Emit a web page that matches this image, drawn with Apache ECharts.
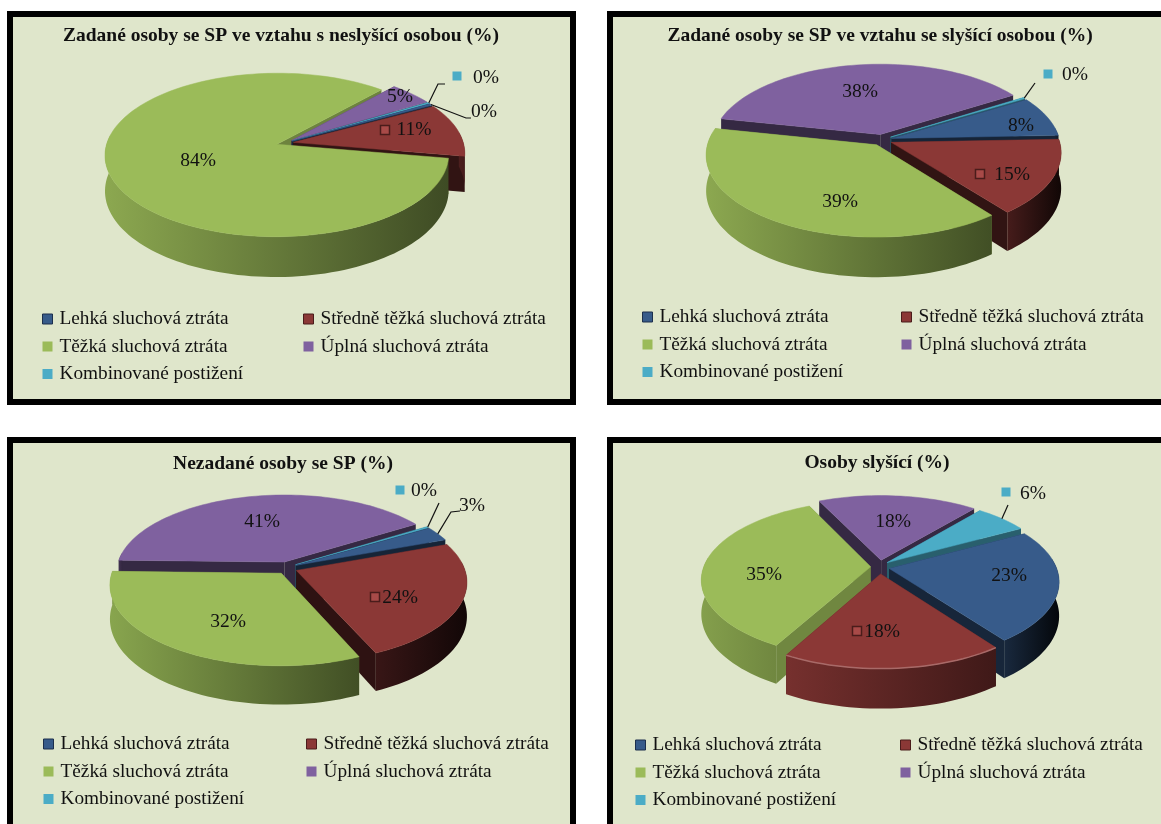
<!DOCTYPE html>
<html><head><meta charset="utf-8"><style>html,body{margin:0;padding:0;background:#fff}#c{width:1161px;height:824px;filter:blur(0.5px)}</style>
<script src="https://cdn.jsdelivr.net/npm/echarts@6/dist/echarts.min.js"></script></head><body><div id="c"></div>
<script>
const categories = ['Lehká sluchová ztráta','Středně těžká sluchová ztráta','Těžká sluchová ztráta','Úplná sluchová ztráta','Kombinované postižení'];
const titles = ['Zadané osoby se SP ve vztahu s neslyšící osobou (%)','Zadané osoby se SP ve vztahu se slyšící osobou (%)','Nezadané osoby se SP (%)','Osoby slyšící (%)'];
const valuesA = [0.4, 10.6, 83.6, 4.7, 0.3];
const valuesB = [8, 15, 38.9, 37.8, 0.3];
const valuesC = [3, 24, 32, 40.7, 0.3];
const valuesD = [23, 18, 35, 18, 6];
const panelValues = [valuesA, valuesB, valuesC, valuesD];
const colors = ['#375B8A','#8B3836','#9BBB59','#7F619F','#4BACC6'];

const layouts = [
 {frame:[10,14,563,388], c:[285,143], r:[170,80], p:.13, d:35, start:-30, e:[.05,.05],
  wall:[[.4,.3],[.55,.5],[.9,.4],[.5,.4],[.5,.4]], radial:[.4,.35,.7,.42,.5], rim:[],
  labels:[[484,112],[414,130],[198,161],[400,97],[486,78]], keys:{1:[385,130],4:[457,76]},
  leaders:{0:[[466,118],[471,118]],4:[[438,84],[445,84]]}, legend:[[42,309],[303,309]]},
 {frame:[610,14,570,388], c:[882,140], r:[168,80], p:.12, d:35, start:-31, e:[.06,.07],
  wall:[[.4,.3],[.5,.12],[.9,.42],[.5,.4],[.5,.4]], radial:[.4,.35,.7,.42,.5], rim:[],
  labels:[[1021,126],[1012,175],[840,202],[860,92],[1075,75]], keys:{1:[980,174],4:[1048,74]},
  leaders:{4:[[1035,83]]}, legend:[[642,307],[901,307]]},
 {frame:[10,440,563,400], c:[287,568], r:[168,78], p:.14, d:33, start:-31, e:[.06,.08],
  wall:[[.4,.3],[.4,.13],[.88,.42],[.5,.4],[.5,.4]], radial:[.4,.33,.7,.42,.5], rim:[],
  labels:[[472,506],[400,598],[228,622],[262,522],[424,491]], keys:{1:[375,597],4:[400,490]},
  leaders:{0:[[451,512],[460,511]],4:[[439,503]]}, legend:[[43,734],[306,734]]},
 {frame:[610,440,570,400], c:[880,567], r:[167,77], p:.16, d:33, start:-29, e:[.056,.09],
  wall:[[.45,.08],[.85,.45],[.85,.72],[.6,.5],[.6,.5]], radial:[.42,.5,.72,.42,.55], rim:[1],
  labels:[[1009,576],[882,632],[764,575],[893,522],[1033,494]], keys:{1:[857,631],4:[1006,492]},
  leaders:{4:[[1008,505]]}, legend:[[635,735],[900,735]]}
];
const titlePos = [[281,37],[880,37],[283,465],[877,464]];

const FONT = '"Liberation Serif", serif';
function shade(hex,f){const n=parseInt(hex.slice(1),16);const m=v=>Math.round(v*f);return `rgb(${m(n>>16&255)},${m(n>>8&255)},${m(n&255)})`;}
function lighten(hex,t){const n=parseInt(hex.slice(1),16);const m=v=>Math.round(v+(255-v)*t);return `rgb(${m(n>>16&255)},${m(n>>8&255)},${m(n&255)})`;}

function geometry(pi){
  const vals=panelValues[pi], total=vals.reduce((a,b)=>a+b,0), L=layouts[pi];
  let a=L.start; const out=vals.map(v=>{const s=a;a+=v/total*360;return {a:s,b:a,mid:(s+a)/2};});
  const order=out.map((g,i)=>[Math.sin(g.mid*Math.PI/180),i]).sort((x,y)=>x[0]-y[0]).map(x=>x[1]);
  out.forEach((g,i)=>g.rank=order.indexOf(i));
  return out;
}
function projector(L,g){
  const R=Math.PI/180, ox=L.e[0]*Math.cos(g.mid*R), oy=L.e[1]*Math.sin(g.mid*R);
  return (th,r,h)=>{const X=ox+r*Math.cos(th*R),Y=oy+r*Math.sin(th*R),s=1/(1-L.p*Y);
    return [L.c[0]+L.r[0]*X*s, L.c[1]+L.r[1]*Y*s+h*L.d*s];};
}
function renderSlice(pi,si){
  return function(){
    const L=layouts[pi], g=geometry(pi)[si], P=projector(L,g), col=colors[si], base=g.rank*10+10;
    const steps=Math.max(2,Math.ceil((g.b-g.a)/2)), arc=[];
    for(let i=0;i<=steps;i++)arc.push(g.a+(g.b-g.a)*i/steps);
    const ch=[];
    const rad=shade(col,L.radial[si]), big=(g.b-g.a)>180;
    [g.a,g.b].forEach((th,k)=>ch.push({type:'polygon',z2:big?1:base+k,shape:{points:[P(th,0,0),P(th,1,0),P(th,1,1),P(th,0,1)]},style:{fill:rad}}));
    const front=arc.filter(t=>Math.sin(t*Math.PI/180)>=-0.14);
    if(front.length>1){
      const pts=front.map(t=>P(t,1,0)).concat(front.slice().reverse().map(t=>P(t,1,1)));
      const w=L.wall[si];
      ch.push({type:'polygon',z2:base+3,shape:{points:pts},style:{fill:new echarts.graphic.LinearGradient(0,0,1,0,[{offset:0,color:shade(col,w[0])},{offset:1,color:shade(col,w[1])}])}});
    }
    ch.push({type:'polygon',z2:base+4,shape:{points:[P(g.a,0,0)].concat(arc.map(t=>P(t,1,0)))},style:{fill:col,stroke:col,lineWidth:.5}});
    if(L.rim.includes(si))ch.push({type:'polyline',z2:base+5,shape:{points:front.map(t=>P(t,1,0))},style:{fill:null,stroke:lighten(col,.25),lineWidth:1.5}});
    const at=L.labels[si], v=panelValues[pi][si];
    ch.push({type:'text',z2:1000,style:{x:at[0],y:at[1],text:Math.round(v)+'%',fill:'#111',font:'19.5px '+FONT,align:'center',verticalAlign:'middle'}});
    const k=L.keys[si];
    if(k)ch.push({type:'rect',z2:1000,shape:{x:k[0]-4.5,y:k[1]-4.5,width:9,height:9},style:{fill:si==1?'#a84a48':col,stroke:si==1?'#4a1c1b':col,lineWidth:si==1?1.5:0}});
    const ld=L.leaders[si];
    if(ld)ch.push({type:'polyline',z2:1000,shape:{points:[P(g.mid,1,0)].concat(ld)},style:{fill:null,stroke:'#111',lineWidth:1.2}});
    return {type:'group',children:ch};
  };
}
const keyBorder={0:'#1c2f4c',1:'#4a1c1b'};
const series=[], legend=[], title=[], graphic=[];
layouts.forEach((L,pi)=>{
  graphic.push({type:'rect',z:-1,shape:{x:L.frame[0],y:L.frame[1],width:L.frame[2],height:L.frame[3]},style:{fill:'#DFE6CB',stroke:'#000',lineWidth:6}});
  title.push({text:titles[pi],left:titlePos[pi][0],top:titlePos[pi][1]-11,textAlign:'center',padding:0,textStyle:{fontFamily:FONT,fontSize:19.5,fontWeight:'bold',color:'#111'}});
  panelValues[pi].forEach((v,si)=>series.push({type:'custom',name:categories[si],coordinateSystem:'none',silent:true,animation:false,itemStyle:{color:colors[si]},data:[[v]],renderItem:renderSlice(pi,si)}));
  [[0,2,4],[1,3]].forEach((col,c)=>legend.push({orient:'vertical',left:L.legend[c][0],top:L.legend[c][1],padding:0,itemGap:7.5,itemWidth:10,itemHeight:10,icon:'rect',selectedMode:false,align:'left',
    data:col.map(i=>keyBorder[i]?{name:categories[i],itemStyle:{borderColor:keyBorder[i],borderWidth:1}}:{name:categories[i]}),textStyle:{fontFamily:FONT,fontSize:19.3,color:'#111',lineHeight:20,padding:[0,0,0,2]}}));
});
const chart=echarts.init(document.getElementById('c'),null,{renderer:'canvas'});
chart.setOption({animation:false,backgroundColor:'#fff',title,legend,graphic:{elements:graphic},series});
</script></body></html>
